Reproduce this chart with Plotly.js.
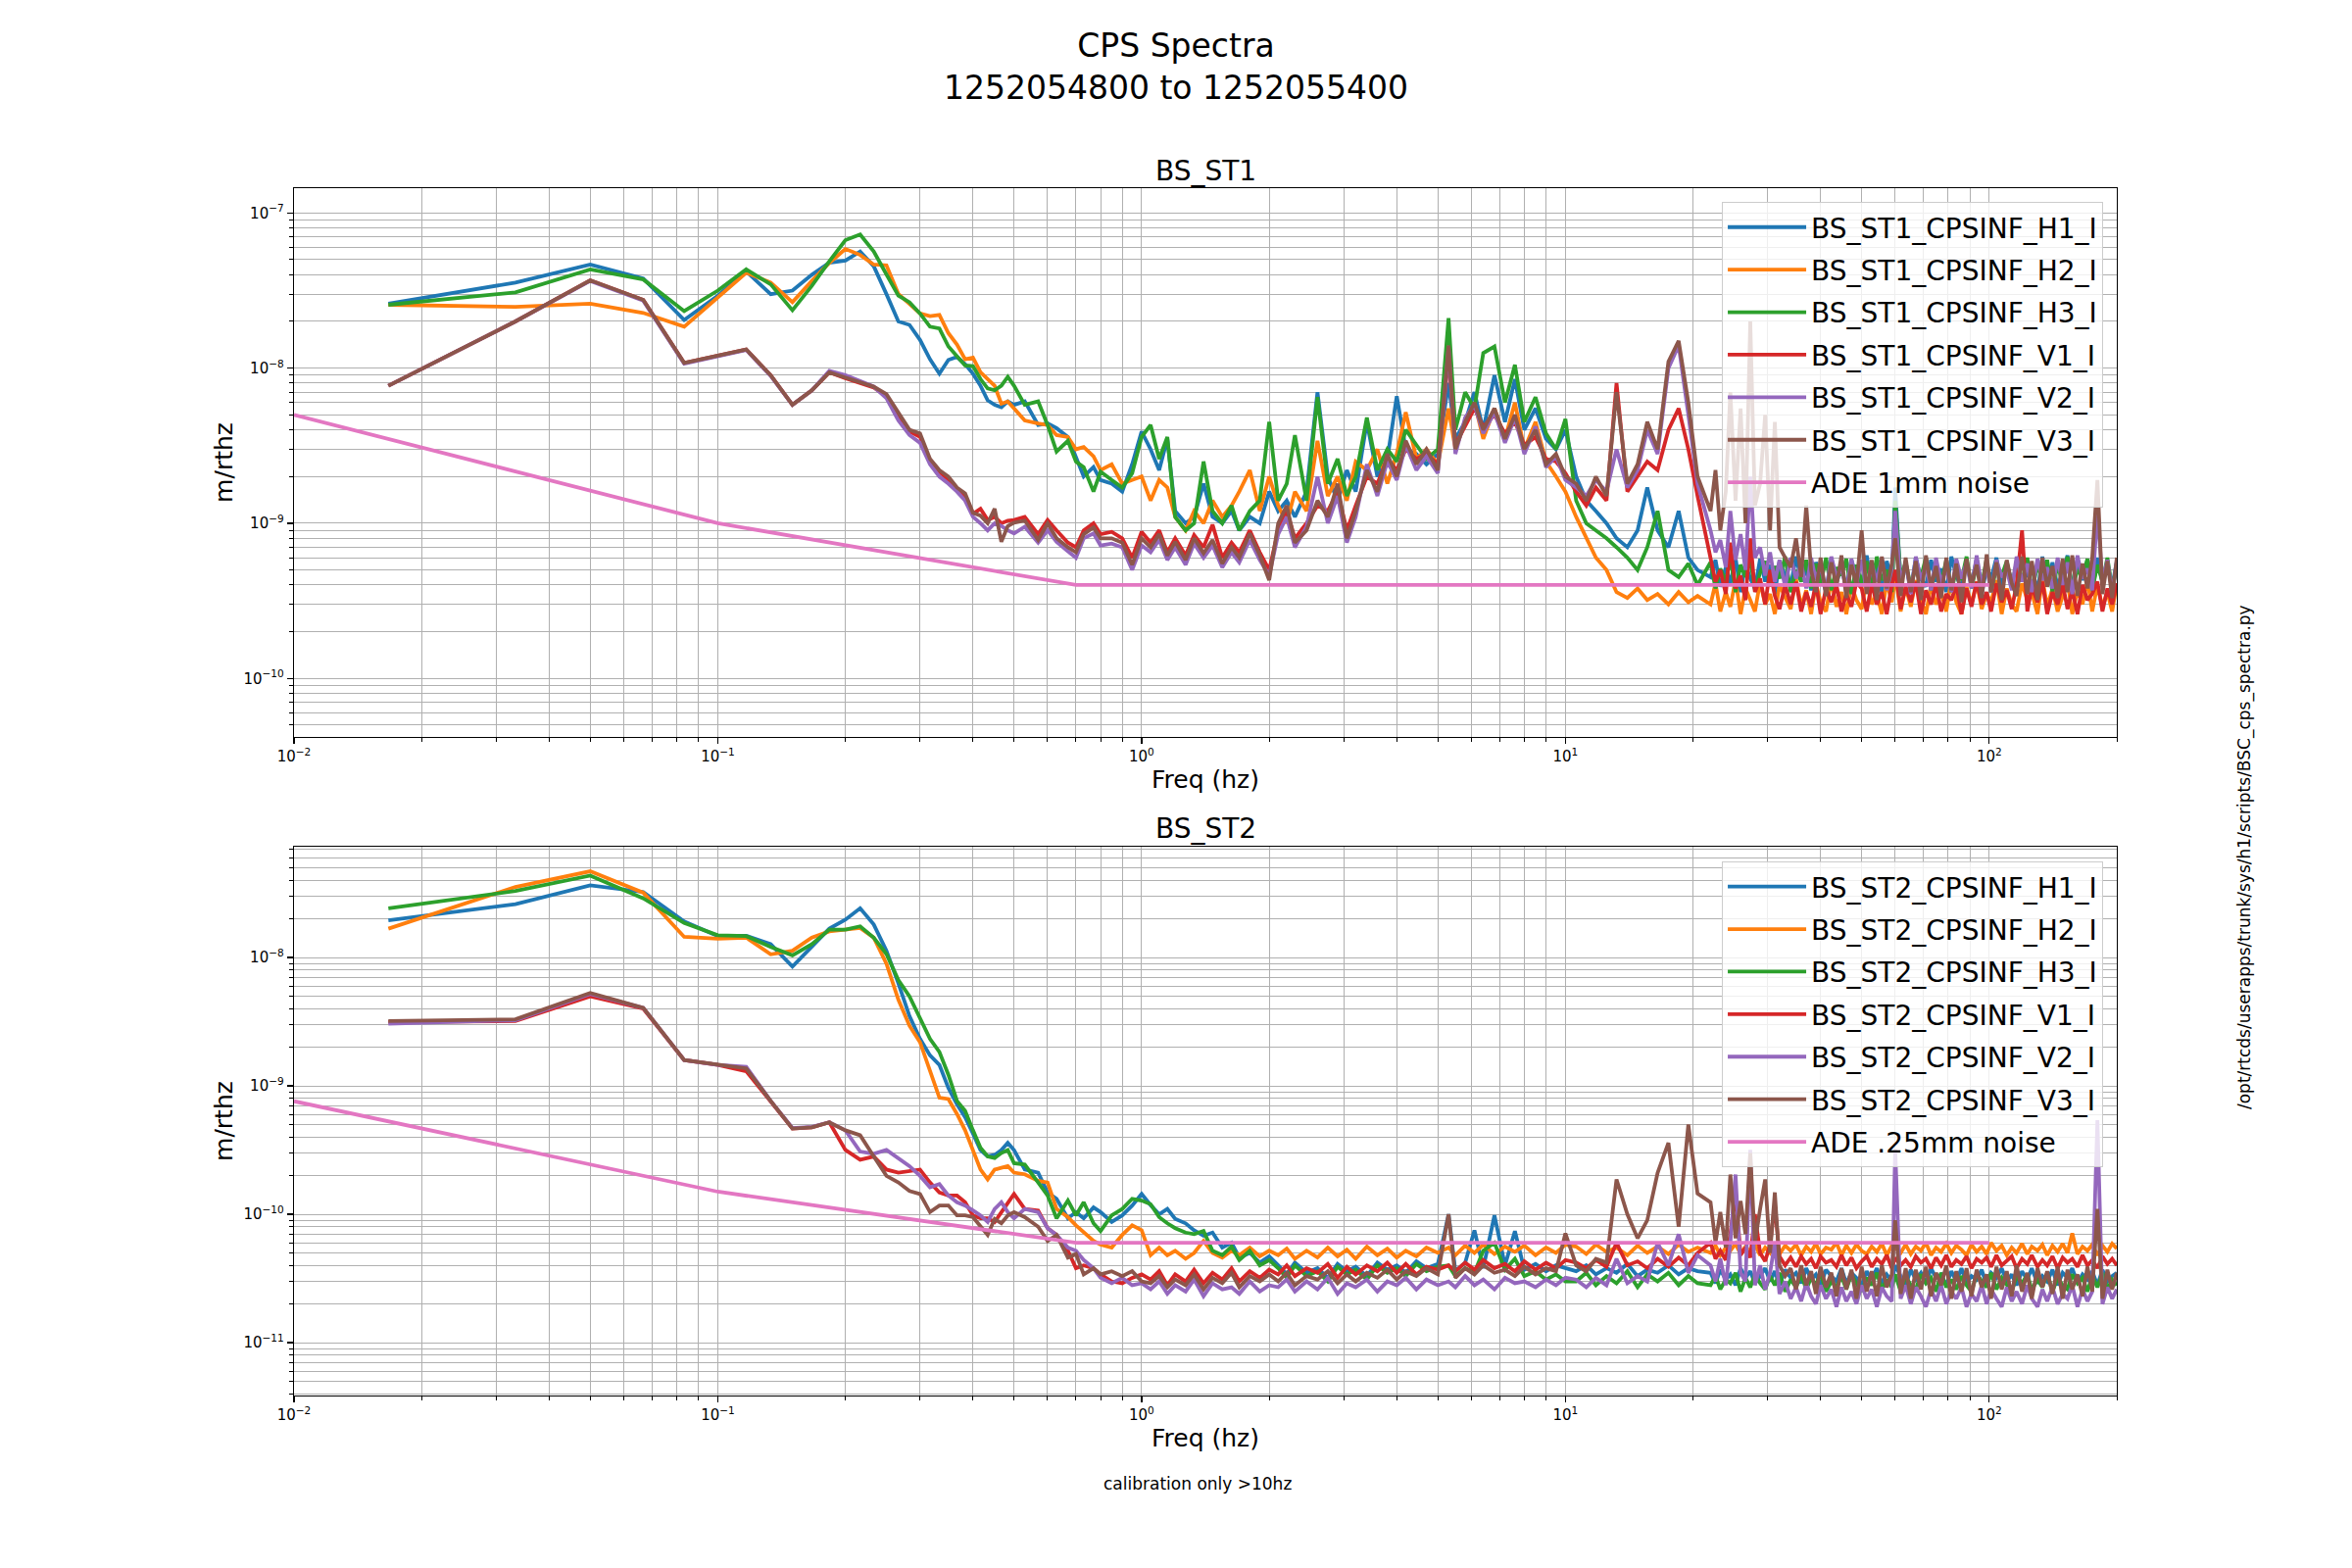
<!DOCTYPE html>
<html>
<head>
<meta charset="utf-8">
<script src="https://cdn.plot.ly/plotly-3.0.1.min.js"></script>
<style>html,body{margin:0;padding:0;background:#fff;}#chart{width:2400px;height:1600px;}</style>
</head>
<body>
<div id="chart"></div>
<script>
// Frequency grid (Hz)
const freqs = [
 0.0167,0.0333,0.05,0.0667,0.0833,0.1,0.1167,0.1333,0.15,0.1667,0.1833,0.2,0.2167,0.2333,0.25,0.2667,0.2833,0.3,0.3167,0.3333,0.35,0.3667,0.3833,0.4,0.4167,0.4333,0.45,0.4667,0.4833,0.5,
 0.53,0.57,0.6,0.63,0.67,0.7,0.73,0.77,0.8,0.85,0.9,0.95,1.0,
 1.05,1.1,1.15,1.2,1.27,1.33,1.4,1.47,1.55,1.63,1.7,1.8,1.9,2.0,
 2.1,2.2,2.3,2.45,2.6,2.75,2.9,3.05,3.2,3.4,3.6,3.8,4.0,4.2,4.45,4.7,5.0,
 5.3,5.5,5.8,6.1,6.4,6.8,7.2,7.6,8.0,8.5,9.0,9.5,10,
 10.6,11.2,11.8,12.5,13.2,14,14.8,15.6,16.5,17.5,18.5,19.5,20.5,
 22,22.6,23.2,23.9,24.5,25.2,25.9,26.6,27.3,28,28.8,29.6,30.4,31.2,32,33,34,35,36,37,38,39,40,41.2,42.4,43.6,44.8,46,47.3,48.6,
 50,51.4,52.8,54.3,55.8,57.3,58.9,60,61.8,63.5,65.3,67.1,69,70.9,72.9,74.9,77,79.2,81.4,83.6,86,88.4,90.8,93.4,96,98.6,
 101,104,107,110,113,116,119.5,123,126,130,133.5,137,141,145,149,153,157,161.5,166,170.5,175,180,185,190,195,200
];

// BS_ST1 spectra, units of 1e-10 m/rthz
const st1_H1 = [260,356,465,378,204,293,420,300,316,400,478,493,565,454,300,200,190,152,114,92,113,118,106,92,77,62,58,56,61,58,
 61,43,44,41,36,27,20,23,19,18,16,24,39,
 30,22,35,12,10,11,18,11,10,12,9,11,10,16,
 12,14,11,16,70,20,14,22,16,45,20,26,66,30,28,24,28,
 80,35,45,70,40,90,45,85,40,55,35,30,40,
 20,14,12,10,8,7,9,17,9,7,12,6,5,
 4.5,5.8,3.9,5.2,4.1,6.0,3.6,5.5,4.4,3.8, 5.9,4.2,5.4,3.5,5.7,4.6,3.9,6.1,4.3,5.0,
 3.7,5.6,4.8,3.6,6.0,4.1,5.3,3.8,5.8,4.5, 3.9,6.2,4.0,5.4,3.6,5.7,4.3,17,4.1,5.5,
 3.7,6.0,4.4,3.9,5.8,4.2,5.1,3.6,6.1,4.6, 3.8,5.6,4.0,5.9,3.5,5.2,4.4,6.0,3.8,5.5,
 4.2,3.7,5.9,4.5,5.3,3.6,6.1,4.0,5.6,3.9, 4.8,6.2,3.7,5.4,4.3,5.8,3.6,6.0,4.1,5.5, 3.9,5.7];
const st1_H2 = [256,248,260,227,185,286,412,356,266,365,477,586,537,465,460,301,260,225,216,220,168,142,114,117,94,85,77,59,61,55,
 46,44,43,37,36,30,31,27,22,24,18,19,20,
 14,19,17,11,9,12,10,14,11,13,16,22,12,20,
 13,10,16,12,34,15,20,14,25,22,30,18,28,52,26,30,24,
 55,30,45,60,35,55,35,60,30,45,25,20,16,
 11,8,6,5,3.6,3.3,3.8,3.2,3.5,3.0,3.6,3.1,3.4,
 3.0,4.1,2.7,3.6,2.9,4.3,2.6,3.8,3.2,2.7, 4.2,3.0,3.5,2.6,4.0,3.3,2.8,4.4,2.9,3.7,
 2.6,4.1,3.1,2.7,4.3,2.9,3.6,2.6,4.0,3.2, 2.8,4.4,3.0,3.5,2.6,4.2,3.1,4.6,2.7,3.9,
 2.9,4.3,3.2,2.6,4.0,3.0,3.6,2.7,4.4,3.1, 2.6,3.9,3.0,4.2,2.8,3.5,3.1,4.3,2.6,3.8,
 3.0,2.7,4.1,3.2,3.6,2.6,4.4,2.9,3.8,2.7, 3.4,4.2,2.6,3.7,3.0,4.3,2.7,4.0,2.9,3.6, 2.7,4.1];
const st1_H3 = [256,308,433,373,233,316,433,347,236,339,488,668,726,565,402,293,266,225,185,180,138,120,104,103,85,74,72,77,88,77,
 58,61,43,29,34,25,23,16,21.5,19,17,21,36,
 43,26,36,11,9,10,25,12,10,13,9,12,14,45,
 14,18,37,14,65,18,26,15,20,48,22,30,25,40,32,26,30,
 210,40,70,55,125,138,60,105,45,65,38,30,47,
 14,10,9,8,7,6,5,7,12,5,4.5,5.5,4.0,
 5.6,3.8,5.1,4.2,6.0,3.6,5.4,4.5,5.9,3.7, 4.8,5.7,3.9,5.3,4.4,6.1,3.6,5.0,4.2,5.8,
 3.8,5.5,4.0,6.0,3.7,5.2,4.6,5.9,3.5,5.4, 4.1,5.7,3.8,6.1,4.3,5.0,3.6,14,4.4,5.6,
 3.9,5.3,4.5,6.0,3.7,5.5,4.1,5.8,3.6,5.1, 4.3,6.1,3.8,5.4,4.0,5.9,3.6,5.2,4.6,5.7,
 3.9,5.6,4.2,6.0,3.7,5.3,4.4,5.8,3.6,5.5, 4.0,6.1,3.8,5.0,4.5,5.9,3.7,5.4,4.2,6.0, 3.8,5.2];
const st1_V1 = [77,200,368,275,108,120,132,90,58,72,94,86,80,75,66,50,39,36,25,21.5,19,16.5,15,11.5,12.4,10.5,11,10,10.4,10.5,
 11,8.5,10.5,9,7.5,7,9,10,8.5,8.8,8,6,8.8,
 7.5,9,6.5,8,6.2,8.4,7,9.8,6,7.5,6.5,9,6.5,5,
 9,12,8,10,13,12,16,9,13,20,18,26,22,30,26,28,24,
 120,32,42,55,42,50,38,45,32,36,26,25,21,
 16,13,17,14,80,16,20,25,22,40,55,30,15,
 6.0,4.2,5.0,3.5,7.5,3.8,4.6,3.2,8.0,3.6, 4.4,3.0,5.0,3.4,2.8,4.0,3.0,4.2,2.7,3.6,
 2.9,4.1,2.6,3.8,3.1,4.0,2.7,3.5,2.9,4.2, 3.8,2.7,4.1,3.0,3.6,2.6,4.0,5.0,2.8,3.9,
 3.1,4.2,2.6,3.7,3.0,4.1,2.7,3.5,3.2,4.0, 2.6,3.8,2.9,4.2,3.0,3.6,2.7,4.1,3.1,3.7,
 2.8,4.0,9.0,2.7,3.9,3.1,4.2,2.6,3.6,3.0, 4.1,2.8,3.7,2.6,4.0,3.2,3.5,4.2,2.7,3.8, 3.0,4.1];
const st1_V2 = [77,200,365,272,107,119,131,89,58,72,96,90,83,76,64,46,37,33,24,20,18,16,14,11,10,9,10,9.6,9,8.6,
 9.5,7.5,9,7.6,6.6,6,8,8.6,7.2,7.4,7,5,7.2,
 6.5,7.8,5.8,7,5.4,7.4,6,7.2,5.2,6.5,5.6,7.8,5.8,4.6,
 8.5,11,7,9.5,20,10,15,7.5,11,24,15,25,19,32,22,27,21,
 135,28,48,58,38,52,33,48,28,42,23,27,19,
 17,15,19,16,30,17,22,40,28,100,140,50,18,
 9.0,6.5,7.8,5.2,12,5.8,8.5,5.0,20,6.0, 7.0,4.6,6.5,4.2,5.8,3.9,6.0,4.4,5.5,3.8,
 6.0,4.3,5.4,3.6,6.1,4.5,5.2,3.7,5.9,4.1, 5.8,3.6,5.5,4.2,6.0,3.7,5.1,12,4.0,5.7,
 3.5,6.1,4.3,5.4,3.7,6.0,4.1,5.2,3.6,5.9, 4.4,5.6,3.8,6.2,4.0,5.3,3.6,5.8,4.5,5.0,
 3.7,6.1,4.2,5.5,3.6,5.9,4.3,5.2,3.8,6.0, 4.0,5.6,3.5,6.2,4.4,5.1,3.7,12,4.2,5.8, 3.6,5.6];
const st1_V3 = [77,200,368,275,108,120,132,90,58,72,94,87,81,76,68,52,40,38,26,22,20,17,15.6,11.7,11.2,10,12.4,7.6,9.6,10.1,
 10.4,7.8,10,8,7,6.5,8.5,9.4,8,8,7.5,5.4,8,
 7,8.5,6.2,7.6,5.8,8,6.4,7.8,5.5,7,6,8.6,6.2,4.3,
 10,13,7.5,9,14,11,18,8,12,22,16,28,20,34,24,30,22,
 140,30,45,60,40,55,35,50,30,40,24,28,20,
 18,14,20,15,70,18,24,45,30,110,150,60,20,
 12,22,9,16,70,14,55,10,200,13, 18,50,9,45,7,6,5.2,8,4.5,13,
 5.0,3.6,6.0,3.4,5.6,3.9,6.2,3.3,5.4,4.0, 9.0,3.5,5.8,3.2,6.1,3.8,5.5,8,3.4,6.0,
 3.6,5.7,3.2,6.2,3.9,5.3,3.3,6.0,3.7,5.5, 3.1,5.9,4.0,5.4,3.3,6.3,3.6,5.6,3.2,5.8,
 4.1,3.4,6.1,3.5,5.7,3.2,6.0,3.9,5.3,3.3, 5.9,3.6,6.2,3.4,5.5,3.8,6.0,19,3.5,5.7, 3.3,6.0];

// BS_ST2 spectra, units of 1e-12 m/rthz
const st2_H1 = [19500,26100,36500,32400,19100,14700,14800,12700,8500,12300,16800,19700,24200,18100,11300,6300,3500,2325,1730,1460,965,720,570,426,316,283,290,316,360,316,
 223,211,148,132,93,104,93,113,104,87,98,117,144,
 118,100,110,92,85,75,68,72,55,60,46,50,42,47,
 40,34,42,35,38,32,41,36,39,33,42,37,40,35,43,38,41,
 100,36,42,75,38,98,40,74,37,41,36,40,38,
 36,40,34,38,35,41,33,37,35,40,34,38,36,
 35,29,37,31,34,28,38,32,36,29, 33,38,30,36,28,37,32,35,29,38,
 31,34,28,37,33,30,38,29,35,32, 28,36,31,38,29,34,30,40,33,28,
 37,31,35,29,38,32,34,28,36,30, 38,29,33,31,37,28,35,32,38,30,
 34,28,36,31,38,29,33,30,37,28, 35,32,38,29,34,31,36,28,37,30, 33,35];
const st2_H2 = [16800,35500,47000,32000,14500,14000,14300,10600,11300,14300,16000,16500,17000,14300,8950,4700,2940,2190,1295,809,790,604,451,317,223,187,223,230,237,211,
 205,182,177,110,95,82,72,62,58,55,69,82,75,
 48,55,48,52,45,50,62,50,46,52,48,55,47,52,
 48,54,45,52,46,55,47,53,45,56,48,54,46,52,47,55,50,
 55,48,57,50,58,49,56,51,57,48,55,50,58,
 56,49,58,51,55,48,57,50,56,49,58,51,55,
 50,57,48,55,52,59,49,56,51,58, 48,55,50,60,49,57,52,58,48,56,
 51,59,49,55,53,60,48,57,50,58, 52,49,56,51,59,48,57,55,50,58,
 49,56,52,60,48,55,51,59,50,57, 53,48,58,51,56,49,60,52,57,48,
 55,50,59,49,56,52,58,48,57,51, 59,50,71,49,56,52,58,48,57,51, 59,54];
const st2_H3 = [24200,33000,43500,28900,18600,14900,14700,12100,10400,12700,16500,16500,17500,14300,10650,6670,4980,3300,2325,1840,1220,764,640,451,330,282,274,300,317,250,
 244,177,140,93,128,98,124,85,74,98,110,132,128,
 120,95,85,78,72,70,74,52,48,56,44,52,40,44,
 38,32,40,33,36,30,39,34,37,31,40,35,38,33,41,36,39,
 40,33,38,35,52,60,37,45,33,36,31,34,30,
 30,35,28,33,29,36,27,34,30,35,28,33,29,
 28,33,26,31,29,35,25,32,27,34, 29,26,33,28,35,25,31,27,34,26,
 32,28,35,25,30,27,33,26,34,29, 25,32,28,35,26,31,27,34,25,33,
 28,26,34,29,32,25,35,27,31,26, 33,28,25,34,30,27,35,26,32,28,
 25,33,29,34,26,31,27,35,25,32, 28,26,34,29,32,25,33,27,35,26, 31,28];
const st2_V1 = [3150,3200,4980,4000,1590,1460,1300,764,465,475,520,317,266,282,223,211,216,223,177,148,140,140,124,98,93,93,87,104,124,144,
 110,107,78,69,52,38,40,38,34,30,29,32,34,
 31,36,28,34,30,37,29,35,31,38,30,36,32,37,
 34,40,33,38,35,41,32,39,34,40,36,42,35,41,34,39,37,
 40,36,42,37,44,38,41,36,43,37,42,38,44,
 42,38,44,39,60,40,43,38,45,39,46,40,50,
 60,45,52,44,70,150,48,55,46,100, 50,43,58,120,47,40,46,39,47,41,
 45,38,47,42,44,39,48,40,46,38, 43,47,39,45,41,48,38,46,40,44,
 39,47,42,45,38,46,40,48,39,44, 41,47,38,45,42,46,39,48,40,43,
 47,38,45,41,48,39,44,40,47,38, 46,42,45,39,48,40,44,38,47,41, 45,40];
const st2_V2 = [3050,3250,5200,4060,1590,1460,1410,764,470,480,520,451,308,296,317,274,237,199,162,172,140,124,117,107,98,87,110,124,104,93,
 110,104,78,69,55,52,44,38,32,29,32,28,29,
 26,30,24,28,25,31,23,29,26,27,24,30,25,28,
 27,31,25,30,26,32,24,29,27,31,25,30,28,32,26,31,28,
 30,27,33,28,31,26,32,29,30,27,31,28,32,
 31,27,32,28,45,29,33,30,60,40,70,35,48,
 40,30,45,28,60,204,35,30,317,28, 40,26,35,60,24,30,22,27,21,29,
 23,20,28,22,26,19,27,21,25,20, 28,22,26,19,27,23,21,320,22,28,
 20,27,23,19,26,21,28,20,25,22, 27,19,24,21,28,20,26,22,19,27,
 21,25,20,28,22,19,26,21,27,20, 24,22,28,19,26,21,25,540,20,27, 22,26];
const st2_V3 = [3200,3300,5300,4060,1590,1460,1370,764,465,475,520,451,413,282,199,177,152,144,104,117,117,98,98,95,80,69,92,85,98,104,
 95,80,62,69,46,49,34,38,34,36,33,36,30,
 29,33,27,31,28,34,26,32,29,35,27,33,30,34,
 30,35,28,33,31,36,29,34,30,35,32,37,31,36,33,38,34,
 100,32,38,34,40,35,37,33,39,34,38,36,71,
 40,36,45,42,187,100,65,90,210,360,80,500,145,
 124,60,104,55,204,65,127,70,300,60, 110,187,50,148,40,33,38,26,40,28,
 36,24,39,27,35,23,38,26,37,22, 39,25,36,23,40,27,34,90,24,38,
 22,37,26,39,23,35,28,40,22,36, 25,38,23,37,27,34,22,39,26,36,
 23,40,25,35,22,38,27,36,24,39, 22,37,26,34,23,39,25,110,22,37, 26,35];

// ADE noise model lines (m/rthz)
const adeFreqs = [0.01, 0.1, 0.7, 100];
const ade1mm = [5e-9, 1e-9, 4e-10, 4e-10];
const ade025mm = [7.6e-10, 1.5e-10, 6e-11, 6e-11];

const names1 = ['BS_ST1_CPSINF_H1_I','BS_ST1_CPSINF_H2_I','BS_ST1_CPSINF_H3_I','BS_ST1_CPSINF_V1_I','BS_ST1_CPSINF_V2_I','BS_ST1_CPSINF_V3_I'];
const names2 = ['BS_ST2_CPSINF_H1_I','BS_ST2_CPSINF_H2_I','BS_ST2_CPSINF_H3_I','BS_ST2_CPSINF_V1_I','BS_ST2_CPSINF_V2_I','BS_ST2_CPSINF_V3_I'];
const xTickVals = [0.01, 0.1, 1, 10, 100];
const xTickText = ['10<sup>\u22122</sup>','10<sup>\u22121</sup>','10<sup>0</sup>','10<sup>1</sup>','10<sup>2</sup>'];
const y1TickVals = [1e-10, 1e-9, 1e-8, 1e-7];
const y1TickText = ['10<sup>\u221210</sup>','10<sup>\u22129</sup>','10<sup>\u22128</sup>','10<sup>\u22127</sup>'];
const y2TickVals = [1e-11, 1e-10, 1e-9, 1e-8];
const y2TickText = ['10<sup>\u221211</sup>','10<sup>\u221210</sup>','10<sup>\u22129</sup>','10<sup>\u22128</sup>'];

const colors = ['#1f77b4','#ff7f0e','#2ca02c','#d62728','#9467bd','#8c564b','#e377c2'];
const LW = 3.8;

const st1 = [st1_H1, st1_H2, st1_H3, st1_V1, st1_V2, st1_V3];
const st2 = [st2_H1, st2_H2, st2_H3, st2_V1, st2_V2, st2_V3];

const traces = [];
st1.forEach((arr, i) => {
  traces.push({x: freqs, y: arr.map(v => v * 1e-10), type: 'scatter', mode: 'lines', name: names1[i],
    line: {color: colors[i], width: LW}, xaxis: 'x2', yaxis: 'y2', legend: 'legend', legendgroup: 'a' + i});
});
traces.push({x: adeFreqs, y: ade1mm, type: 'scatter', mode: 'lines', name: 'ADE 1mm noise',
  line: {color: colors[6], width: LW}, xaxis: 'x2', yaxis: 'y2', legend: 'legend', legendgroup: 'a6'});
st2.forEach((arr, i) => {
  traces.push({x: freqs, y: arr.map(v => v * 1e-12), type: 'scatter', mode: 'lines', name: names2[i],
    line: {color: colors[i], width: LW}, xaxis: 'x', yaxis: 'y', legend: 'legend2', legendgroup: 'b' + i});
});
traces.push({x: adeFreqs, y: ade025mm, type: 'scatter', mode: 'lines', name: 'ADE .25mm noise',
  line: {color: colors[6], width: LW}, xaxis: 'x', yaxis: 'y', legend: 'legend2', legendgroup: 'b6'});

function axis(extra) {
  return Object.assign({
    type: 'log', showline: true, mirror: true, linecolor: '#000', linewidth: 1.3,
    ticks: 'outside', ticklen: 6, tickwidth: 1.2, tickcolor: '#000',
    showgrid: true, gridcolor: '#b0b0b0', gridwidth: 1, zeroline: false,
    tickmode: 'array', tickfont: {size: 15, color: '#000', family: 'DejaVu Sans'},
    minor: {dtick: 'D1', ticks: 'outside', ticklen: 3.5, tickwidth: 1, tickcolor: '#000',
            showgrid: true, gridcolor: '#b0b0b0', gridwidth: 1}
  }, extra);
}

const titleFont = {family: 'DejaVu Sans', size: 25, color: '#000'};
const legendBase = {
  font: {family: 'DejaVu Sans', size: 28, color: '#000'},
  bgcolor: 'rgba(255,255,255,0.8)', bordercolor: '#cccccc', borderwidth: 1,
  tracegroupgap: 4, itemwidth: 80,
  xref: 'paper', yref: 'paper', xanchor: 'right', yanchor: 'top', x: 0.9925
};

const layout = {
  width: 2400, height: 1600,
  paper_bgcolor: '#fff', plot_bgcolor: '#fff',
  font: {family: 'DejaVu Sans', color: '#000'},
  margin: {l: 300, r: 240, t: 192, b: 176, pad: 0},
  title: {text: 'CPS Spectra<br>1252054800 to 1252055400', font: {family: 'DejaVu Sans', size: 33, color: '#000'},
          xref: 'container', x: 0.5, xanchor: 'center', yref: 'container', y: 0.964, yanchor: 'top'},
  xaxis2: axis({domain: [0, 1], anchor: 'y2', range: [-2, 2.301], tickvals: xTickVals, ticktext: xTickText,
                title: {text: 'Freq (hz)', font: titleFont, standoff: 5}}),
  yaxis2: axis({domain: [0.5455, 1], anchor: 'x2', range: [-10.377, -6.84], tickvals: y1TickVals, ticktext: y1TickText,
                title: {text: 'm/rthz', font: titleFont, standoff: 3}}),
  xaxis: axis({domain: [0, 1], anchor: 'y', range: [-2, 2.301], tickvals: xTickVals, ticktext: xTickText,
               title: {text: 'Freq (hz)', font: titleFont, standoff: 5}}),
  yaxis: axis({domain: [0, 0.4545], anchor: 'x', range: [-11.412, -7.137], tickvals: y2TickVals, ticktext: y2TickText,
               title: {text: 'm/rthz', font: titleFont, standoff: 3}}),
  legend: Object.assign({}, legendBase, {y: 0.9886}),
  legend2: Object.assign({}, legendBase, {y: 0.4424}),
  showlegend: true,
  annotations: [
    {text: 'BS_ST1', xref: 'paper', yref: 'paper', x: 0.5, y: 1.0146, xanchor: 'center', yanchor: 'middle', showarrow: false,
     font: {family: 'DejaVu Sans', size: 28, color: '#000'}},
    {text: 'BS_ST2', xref: 'paper', yref: 'paper', x: 0.5, y: 0.4692, xanchor: 'center', yanchor: 'middle', showarrow: false,
     font: {family: 'DejaVu Sans', size: 28, color: '#000'}},
    {text: 'calibration only >10hz', xref: 'paper', yref: 'paper', x: 0.4957, y: -0.0731, xanchor: 'center', yanchor: 'middle', showarrow: false,
     font: {family: 'DejaVu Sans', size: 17, color: '#000'}},
    {text: '/opt/rtcds/userapps/trunk/sys/h1/scripts/BSC_cps_spectra.py', xref: 'paper', yref: 'paper', x: 1.0699, y: 0.4456,
     xanchor: 'center', yanchor: 'middle', textangle: -90, showarrow: false,
     font: {family: 'DejaVu Sans', size: 17, color: '#000'}}
  ]
};

Plotly.newPlot('chart', traces, layout, {displayModeBar: false, staticPlot: true});
</script>
</body>
</html>
